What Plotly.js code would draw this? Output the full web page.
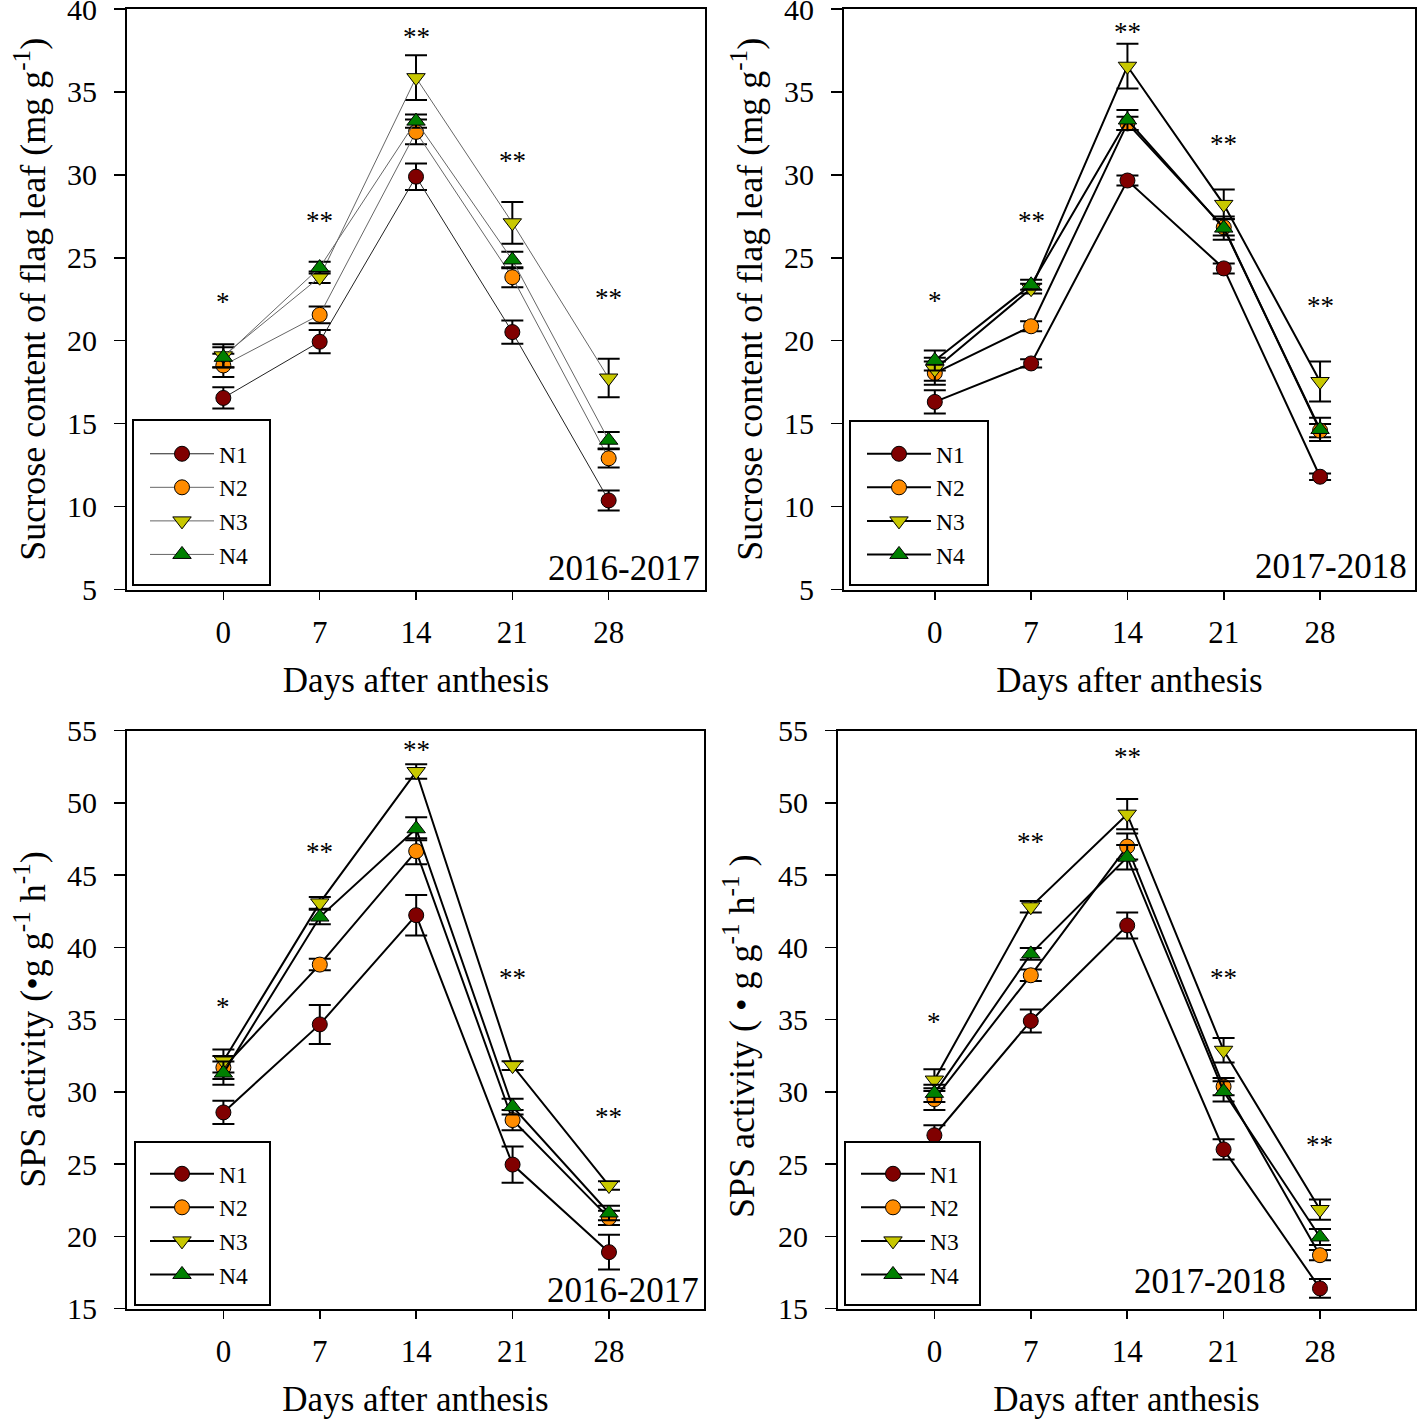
<!DOCTYPE html>
<html>
<head>
<meta charset="utf-8">
<script src="https://cdn.plot.ly/plotly-3.0.1.min.js"></script>
<style>
  html, body { margin: 0; padding: 0; background: #fff; }
  #chart { width: 1418px; height: 1421px; }
</style>
</head>
<body>
<div id="chart"></div>
<script>
// Flag-leaf sucrose content and SPS activity after anthesis, N1–N4, two seasons.

const DAYS = [0, 7, 14, 21, 28];
const TREATMENTS = ['N1', 'N2', 'N3', 'N4'];
const SIG = ['*', '**', '**', '**', '**'];

// sucrose content (mg g-1), 2016-2017 — rows N1..N4
const sucrose1617 = [
  [16.55, 19.94, 29.89, 20.52, 10.37],
  [18.51, 21.56, 32.59, 23.83, 12.91],
  [19.09, 23.83, 35.86, 27.11, 17.75],
  [19.00, 24.41, 33.24, 24.87, 14.00],
];
const sucrose1617Err = [
  [0.64, 0.70, 0.80, 0.70, 0.60],
  [0.70, 0.50, 0.75, 0.60, 0.55],
  [0.70, 0.35, 1.35, 1.26, 1.16],
  [0.60, 0.35, 0.40, 0.50, 0.50],
];
const sucrose1617SigY = [22.7, 27.6, 38.7, 31.2, 22.95];

// sucrose content (mg g-1), 2017-2018
const sucrose1718 = [
  [16.31, 18.63, 29.66, 24.36, 11.80],
  [18.05, 20.87, 33.10, 26.84, 14.58],
  [18.28, 23.14, 36.55, 28.22, 17.54],
  [18.81, 23.37, 33.31, 26.79, 14.65],
];
const sucrose1718Err = [
  [0.70, 0.25, 0.30, 0.30, 0.20],
  [0.70, 0.30, 0.40, 0.50, 0.40],
  [0.70, 0.30, 1.35, 0.90, 1.20],
  [0.60, 0.30, 0.60, 0.70, 0.70],
];
const sucrose1718SigY = [22.75, 27.6, 39.0, 32.2, 22.45];

// SPS activity, 2016-2017
const sps1617 = [
  [28.57, 34.66, 42.22, 24.96, 18.90],
  [31.68, 38.80, 46.65, 28.04, 21.27],
  [32.13, 43.07, 52.16, 31.81, 23.51],
  [31.29, 42.09, 48.20, 28.97, 21.61],
];
const sps1617Err = [
  [0.80, 1.35, 1.40, 1.25, 1.20],
  [0.80, 0.40, 0.90, 0.70, 0.50],
  [0.80, 0.40, 0.50, 0.30, 0.30],
  [0.80, 0.50, 0.80, 0.55, 0.50],
];
const sps1617SigY = [36.3, 47.0, 54.1, 38.3, 28.65];

// SPS activity, 2017-2018
const sps1718 = [
  [26.99, 34.90, 41.51, 26.01, 16.39],
  [29.49, 38.06, 46.97, 30.36, 18.69],
  [30.81, 42.80, 49.21, 32.87, 21.85],
  [29.89, 39.54, 46.23, 30.02, 19.95],
];
const sps1718Err = [
  [0.70, 0.80, 0.90, 0.70, 0.65],
  [0.75, 0.40, 0.90, 0.60, 0.35],
  [0.75, 0.40, 1.05, 0.85, 0.70],
  [0.60, 0.40, 0.85, 0.70, 0.55],
];
const sps1718SigY = [35.25, 47.7, 53.55, 38.3, 26.75];

const COLORS = ['#800000', '#ff8c00', '#c8c800', '#008000'];
const SYMBOLS = ['circle', 'circle', 'triangle-down', 'triangle-up'];
const SIZES = [15, 15, 16, 16];
const FAMILY = 'Liberation Serif, "Times New Roman", serif';
const W = 1418, H = 1421;

const panels = [
  { mean: sucrose1617, err: sucrose1617Err, sigY: sucrose1617SigY, n: '', legend: 'legend',
    lineColors: ['#222', '#666', '#666', '#666'], lineWidth: 1 },
  { mean: sucrose1718, err: sucrose1718Err, sigY: sucrose1718SigY, n: '2', legend: 'legend2',
    lineColors: ['#000', '#000', '#000', '#000'], lineWidth: 2 },
  { mean: sps1617, err: sps1617Err, sigY: sps1617SigY, n: '3', legend: 'legend3',
    lineColors: ['#000', '#000', '#000', '#000'], lineWidth: 2 },
  { mean: sps1718, err: sps1718Err, sigY: sps1718SigY, n: '4', legend: 'legend4',
    lineColors: ['#000', '#000', '#000', '#000'], lineWidth: 2 },
];

const traces = [];
const annotations = [];
panels.forEach((p) => {
  TREATMENTS.forEach((name, i) => {
    traces.push({
      x: DAYS, y: p.mean[i], name,
      type: 'scatter', mode: 'lines+markers',
      xaxis: 'x' + p.n, yaxis: 'y' + p.n, legend: p.legend,
      line: { color: p.lineColors[i], width: p.lineWidth },
      marker: { color: COLORS[i], symbol: SYMBOLS[i], size: SIZES[i], line: { color: '#000', width: 1 } },
      error_y: { type: 'data', array: p.err[i], color: '#000', thickness: 2, width: 11 },
    });
  });
  DAYS.forEach((d, k) => {
    annotations.push({
      xref: 'x' + p.n, yref: 'y' + p.n, x: d, y: p.sigY[k], text: SIG[k],
      showarrow: false, yanchor: 'middle', yshift: -6,
      font: { family: FAMILY, size: 27, color: '#000' },
    });
  });
});

// season labels
const seasons = [
  { n: '', text: '2016-2017', x: 0.994, y: 0.037, xanchor: 'right' },
  { n: '2', text: '2017-2018', x: 0.99, y: 0.039, xanchor: 'right' },
  { n: '3', text: '2016-2017', x: 0.995, y: 0.032, xanchor: 'right' },
  { n: '4', text: '2017-2018', x: 0.645, y: 0.046, xanchor: 'center' },
];
seasons.forEach((s) => annotations.push({
  xref: 'x' + s.n + ' domain', yref: 'y' + s.n + ' domain', x: s.x, y: s.y,
  xanchor: s.xanchor, yanchor: 'middle', text: s.text, showarrow: false,
  font: { family: FAMILY, size: 35, color: '#000' },
}));

// the 2017-2018 SPS y title sits a little below the axis middle in the original
annotations.push({
  xref: 'paper', yref: 'paper', x: 739 / W, y: 1 - 1036 / H, textangle: -90,
  xanchor: 'center', yanchor: 'middle', showarrow: false,
  text: 'SPS activity (\u00a0• g g<sup>-1</sup> h<sup>-1</sup>\u00a0)',
  font: { family: FAMILY, size: 36, color: '#000' },
});

// legend frames (pixel boxes) drawn as shapes so the padding matches
const legendBoxes = [
  [133, 420, 270, 585],
  [850, 421, 988, 585],
  [135, 1142, 270, 1305],
  [845, 1142, 980, 1305],
];
const shapes = legendBoxes.map(([x0, y0, x1, y1]) => ({
  type: 'rect', xref: 'paper', yref: 'paper', layer: 'above',
  x0: x0 / W, x1: x1 / W, y0: 1 - y1 / H, y1: 1 - y0 / H,
  line: { color: '#000', width: 2 }, fillcolor: '#fff',
}));

function xAxis(d0, d1, range, anchor) {
  return {
    domain: [d0 / W, d1 / W], range, anchor,
    tickvals: DAYS, ticks: 'outside', ticklen: 8, tickwidth: 1.5, tickcolor: '#000',
    showline: true, linewidth: 2, linecolor: '#000', mirror: true,
    showgrid: false, zeroline: false, automargin: false, ticklabelstandoff: 6,
    ticklabeloverflow: 'allow',
    tickfont: { family: FAMILY, size: 31, color: '#000' },
    title: { text: 'Days after anthesis', font: { family: FAMILY, size: 35, color: '#000' }, standoff: 19 },
  };
}
function yAxis(top, bottom, range, anchor, title) {
  return {
    domain: [1 - bottom / H, 1 - top / H], range, anchor, dtick: 5, tick0: 5,
    ticks: 'outside', ticklen: 11, tickwidth: 1.5, tickcolor: '#000',
    showline: true, linewidth: 2, linecolor: '#000', mirror: true,
    showgrid: false, zeroline: false, automargin: false, ticklabelstandoff: 11,
    ticklabeloverflow: 'allow',
    tickfont: { family: FAMILY, size: 30, color: '#000' },
    title: { text: title, font: { family: FAMILY, size: 36, color: '#000' }, standoff: 10 },
  };
}
// px, py: where the first legend line starts / the first entry sits
function legendAt(px, py) {
  return {
    x: (px - 7) / W, y: 1 - (py - 23) / H, xanchor: 'left', yanchor: 'top',
    bgcolor: 'rgba(0,0,0,0)', borderwidth: 0, itemwidth: 64,
    font: { family: FAMILY, size: 23.5, color: '#000' }, traceorder: 'normal',
  };
}

const sucTitle = 'Sucrose content of flag leaf (mg g<sup>-1</sup>)';
const layout = {
  width: W, height: H,
  margin: { l: 0, r: 0, t: 0, b: 0 },
  paper_bgcolor: '#fff', plot_bgcolor: '#fff',
  showlegend: true,
  xaxis: xAxis(127, 705, [-7, 35], 'y'),
  yaxis: yAxis(9, 589.5, [5, 40], 'x', sucTitle),
  xaxis2: xAxis(844, 1415, [-6.6, 34.9], 'y2'),
  yaxis2: yAxis(9, 589.5, [5, 40], 'x2', sucTitle),
  xaxis3: xAxis(127, 704, [-7, 34.9], 'y3'),
  yaxis3: yAxis(730.5, 1308.5, [15, 55], 'x3', 'SPS activity (•g g<sup>-1</sup> h<sup>-1</sup>)'),
  xaxis4: xAxis(838, 1415, [-7, 34.9], 'y4'),
  yaxis4: yAxis(730.5, 1308.5, [15, 55], 'x4', ''),
  legend: legendAt(152, 455),
  legend2: legendAt(869, 455),
  legend3: legendAt(152, 1175),
  legend4: legendAt(863, 1175),
  shapes,
  annotations,
};

Plotly.newPlot('chart', traces, layout, { displayModeBar: false, staticPlot: true });
</script>
</body>
</html>
